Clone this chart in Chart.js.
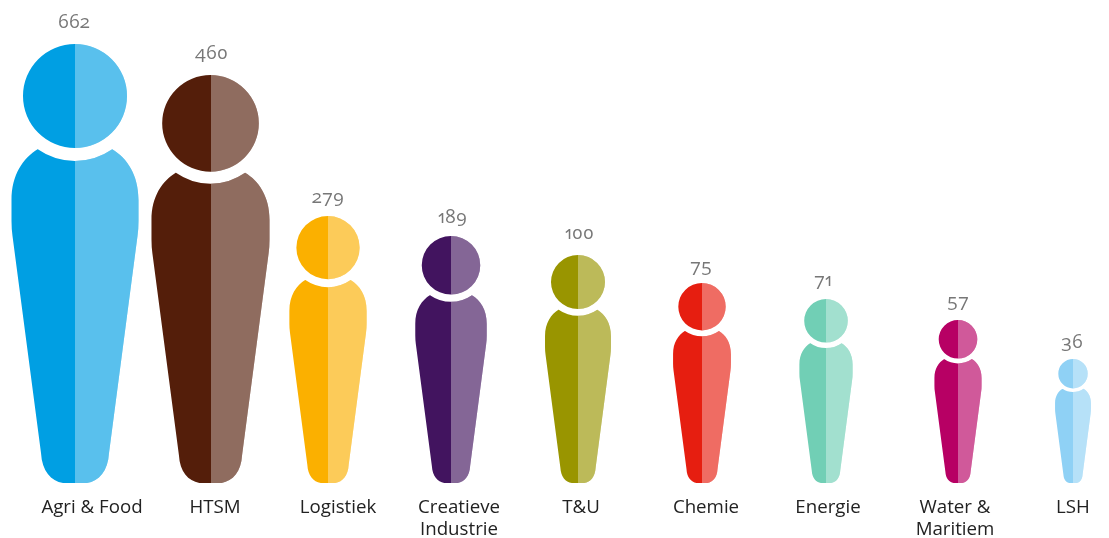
<!DOCTYPE html>
<html>
<head>
<meta charset="utf-8">
<title>Topsectoren</title>
<script src="https://cdn.jsdelivr.net/npm/chart.js@4/dist/chart.umd.min.js"></script>
<style>
    @font-face { font-family: "OldNums"; src: local("Open Sans"), local("Open Sans Regular"), local("OpenSans-Regular"); font-feature-settings: "onum"; }
    html, body { margin: 0; background: #fff; }
    canvas { display: block; }
</style>
</head>
<body>
<canvas id="myChart" width="1109" height="538"></canvas>
<script>
/* sectoren en aantallen */
const categories = ['Agri & Food', 'HTSM', 'Logistiek', ['Creatieve', 'Industrie'], 'T&U', 'Chemie', 'Energie', ['Water &', 'Maritiem'], 'LSH'];
const values = [662, 460, 279, 189, 100, 75, 71, 57, 36];
// hoogte van het poppetje, afgelezen uit het plaatje (niet lineair met het aantal)
const figureHeights = [439, 408, 267, 247, 228, 200, 184, 163, 124];
const figureCentres = [75, 210.5, 328, 451, 578, 702, 826, 958, 1073];
const labelCentres = [92, 215, 338, 459, 581, 706, 828, 955, 1073];
const valueCentres = [74, 211, 327.5, 452, 579, 701, 823, 958, 1072];
const colours = ['#009FE3', '#541E0A', '#FBB000', '#42145F', '#999500', '#E61E10', '#71CFB5', '#B70064', '#8FD1F5'];

const FONT = '"Open Sans", sans-serif';
const NUM_FONT = 'OldNums, "Open Sans", sans-serif';
// ruimte tussen aantal en hoofd, staat in het origineel niet overal gelijk
const valueGaps = [16, 16, 13, 13, 16, 11, 13, 13, 11];

// vorm voor een poppetje van 439 hoog, oorsprong midden onder
function figurePath(ctx, cx, base, s) {
    const X = (dx) => cx + dx * s;
    const Y = (up) => base - up * s;
    const tip = Math.atan2(53, 37);
    ctx.beginPath();
    // hoofd
    ctx.moveTo(X(52), Y(387));
    ctx.arc(X(0), Y(387), 52 * s, 0, Math.PI * 2);
    ctx.closePath();
    // lijf
    ctx.moveTo(X(-12), Y(0));
    ctx.bezierCurveTo(X(-24), Y(2), X(-33), Y(12), X(-34), Y(30));
    ctx.lineTo(X(-62.5), Y(247));
    ctx.quadraticCurveTo(X(-63.5), Y(254), X(-63.5), Y(262));
    ctx.lineTo(X(-63.5), Y(283));
    ctx.bezierCurveTo(X(-63.5), Y(308), X(-52), Y(325), X(-37), Y(334));
    ctx.arc(X(0), Y(387), 65 * s, Math.PI - tip, tip, true);
    ctx.bezierCurveTo(X(52), Y(325), X(63.5), Y(308), X(63.5), Y(283));
    ctx.lineTo(X(63.5), Y(262));
    ctx.quadraticCurveTo(X(63.5), Y(254), X(62.5), Y(247));
    ctx.lineTo(X(34), Y(30));
    ctx.bezierCurveTo(X(33), Y(12), X(24), Y(2), X(12), Y(0));
    ctx.closePath();
}

const figurePlugin = {
    id: 'figures',
    beforeDatasetDraw(chart, args) {
        const ctx = chart.ctx;
        const bars = chart.getDatasetMeta(args.index).data;
        bars.forEach((bar, i) => {
            const s = (bar.base - bar.y) / 439;
            ctx.save();
            figurePath(ctx, bar.x, bar.base, s);
            ctx.fillStyle = colours[i];
            ctx.fill();
            // rechterhelft lichter
            ctx.beginPath();
            ctx.rect(Math.round(bar.x), 0, chart.width, chart.height);
            ctx.clip();
            figurePath(ctx, bar.x, bar.base, s);
            ctx.fillStyle = 'rgba(255, 255, 255, 0.35)';
            ctx.fill();
            ctx.restore();

            // aantal boven het hoofd
            ctx.save();
            ctx.font = '19px ' + NUM_FONT;
            ctx.fillStyle = '#777777';
            ctx.textAlign = 'center';
            ctx.textBaseline = 'alphabetic';
            ctx.fillText(values[i], chart.scales.x.getPixelForValue(valueCentres[i]), bar.y - valueGaps[i]);
            ctx.restore();
        });
        return false;
    }
};

function drawChart() {
    let ctx = document.getElementById('myChart').getContext('2d');

    let myChart = new Chart(ctx, {
        type: 'bar',
        data: {
            datasets: [{
                data: figureCentres.map((x, i) => ({ x: x, y: figureHeights[i] })),
                backgroundColor: colours
            }]
        },
        options: {
            responsive: false,
            animation: false,
            layout: { padding: 0 },
            plugins: {
                legend: { display: false },
                tooltip: { enabled: false }
            },
            scales: {
                x: {
                    type: 'linear',
                    offset: false,
                    min: 0,
                    max: 1109,
                    grid: { display: false },
                    border: { display: false },
                    afterBuildTicks: (axis) => {
                        axis.ticks = labelCentres.map((v) => ({ value: v }));
                    },
                    afterFit: (axis) => {
                        axis.height = 55;
                        axis.paddingLeft = 0;
                        axis.paddingRight = 0;
                    },
                    ticks: {
                        autoSkip: false,
                        maxRotation: 0,
                        padding: 6,
                        color: '#222222',
                        font: { family: FONT, size: 18.7, lineHeight: 1.18 },
                        callback: (value, index) => categories[index]
                    }
                },
                y: {
                    display: false,
                    min: 0,
                    max: 483
                }
            }
        },
        plugins: [figurePlugin]
    });
}

document.fonts.load('19px OldNums').then(drawChart, drawChart);
</script>
</body>
</html>
